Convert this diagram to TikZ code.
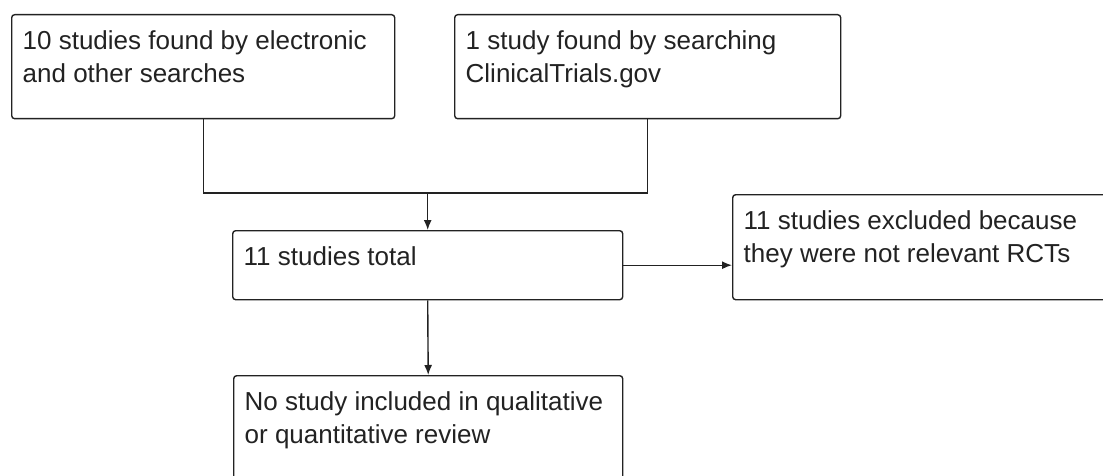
\documentclass[tikz,border=0pt]{standalone}
\usepackage{fontspec}
\setmainfont{Liberation Sans}
\usetikzlibrary{arrows.meta,positioning}
\definecolor{flowline}{HTML}{222222}
\newcommand{\flowtext}[3]{\parbox[t][#2][t]{#1}{\raggedright #3}}

\begin{document}
\begin{tikzpicture}[
    x=1pt, y=-1pt,
    box/.style={rectangle, draw=flowline, line width=1.4pt, rounded corners=3pt,
      anchor=north west, inner xsep=11pt, inner ysep=16pt, text=flowline,
      font=\fontsize{26}{33}\selectfont},
    arrow/.style={-{Latex[length=10pt,width=8pt]}, line width=1.4pt, flowline},
    link/.style={line width=1.4pt, flowline}
  ]
    \useasboundingbox (0,0) rectangle (1103,476);

    \node[box] (found) at (11,14) {\flowtext{361pt}{72pt}{10 studies found by electronic\\and other searches}};
    \node[box] (trials) at (454,14) {\flowtext{364pt}{72pt}{1 study found by searching\\ClinicalTrials.gov}};
    \node[box] (total) at (232,230) {\flowtext{368pt}{37pt}{11 studies total}};
    \node[box] (excluded) at (732,194) {\flowtext{361pt}{73pt}{11 studies excluded because\\they were not relevant RCTs}};
    \node[box] (none) at (233,375) {\flowtext{367pt}{72pt}{No study included in qualitative\\or quantitative review}};

    \coordinate (merge) at (total.north |- 0,193);

    \draw[link] (found.south) |- (merge) -| (trials.south);
    \draw[arrow] (merge) -- (total.north);
    \draw[arrow] (total.east) -- (total.east -| excluded.west);
    \draw[arrow] (total.south) -- (none.north);
  \end{tikzpicture}
\end{document}
